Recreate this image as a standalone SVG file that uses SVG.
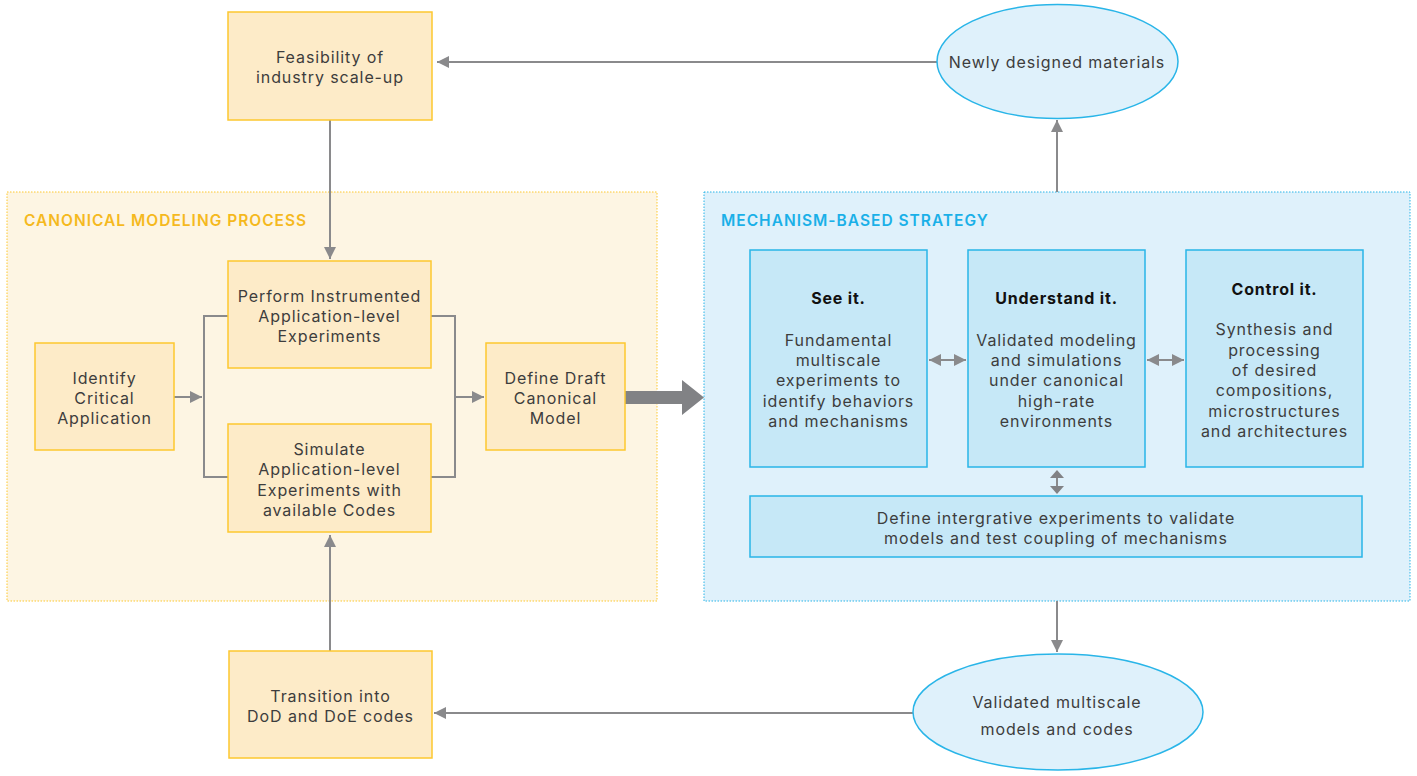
<svg xmlns="http://www.w3.org/2000/svg" width="1417" height="776" viewBox="0 0 1417 776">
<defs>
<style>
.t{font-family:Inter,"Open Sans","Liberation Sans",sans-serif;font-size:16px;letter-spacing:0.9px;fill:#3d3d3d;text-anchor:middle}
.b{font-weight:bold;fill:#111;letter-spacing:0.8px}
.yb{fill:#fdebc8;stroke:#fdc82f;stroke-width:1.5}
.bb{fill:#c6e8f7;stroke:#29b5e8;stroke-width:1.5}
.el{fill:#dff1fb;stroke:#29b5e8;stroke-width:1.5}
.ln{fill:none;stroke:#8a8a8c;stroke-width:2}
.hd{fill:#818285}
.ttl{font-family:Inter,"Open Sans","Liberation Sans",sans-serif;font-size:15.5px;font-weight:600;letter-spacing:1px}
</style>
<marker id="ah" viewBox="0 0 10 10" refX="10" refY="5" markerWidth="6" markerHeight="6" orient="auto-start-reverse" markerUnits="strokeWidth">
<path d="M0,0 L10,5 L0,10 z" fill="#8a8a8c"/>
</marker>
</defs>
<rect width="1417" height="776" fill="#fff"/>
<g id="canonical-region">
<rect x="7" y="192" width="650" height="409" fill="#fdf5e3" stroke="#fdc82f" stroke-width="1" stroke-dasharray="1.5,1.5"/>
<text class="ttl" x="24" y="226" fill="#f5b91e">CANONICAL MODELING PROCESS</text>
</g>
<g id="mechanism-region">
<rect x="704" y="192" width="706" height="409" fill="#dff1fb" stroke="#29b5e8" stroke-width="1" stroke-dasharray="1.5,1.5"/>
<text class="ttl" x="721" y="226" fill="#1ab0e8">MECHANISM-BASED STRATEGY</text>
</g>
<g id="connectors">
<line class="ln" x1="937" y1="62" x2="437" y2="62" marker-end="url(#ah)"/>
<line class="ln" x1="330" y1="120" x2="330" y2="259" marker-end="url(#ah)"/>
<line class="ln" x1="174" y1="397" x2="202" y2="397" marker-end="url(#ah)"/>
<polyline class="ln" points="228,316 204,316 204,477 228,477"/>
<polyline class="ln" points="431,316 455,316 455,477 431,477"/>
<line class="ln" x1="455" y1="397" x2="484" y2="397" marker-end="url(#ah)"/>
<path d="M625,391 L682,391 L682,380 L704,397.5 L682,415 L682,404 L625,404 z" fill="#818285"/>
<line class="ln" x1="330" y1="651" x2="330" y2="535" marker-end="url(#ah)"/>
<line class="ln" x1="913" y1="713" x2="434" y2="713" marker-end="url(#ah)"/>
<line class="ln" x1="1057" y1="192" x2="1057" y2="120" marker-end="url(#ah)"/>
<line class="ln" x1="1057" y1="601" x2="1057" y2="652" marker-end="url(#ah)"/>
<line class="ln" x1="929" y1="360" x2="966" y2="360" marker-start="url(#ah)" marker-end="url(#ah)"/>
<line class="ln" x1="1147" y1="360" x2="1184" y2="360" marker-start="url(#ah)" marker-end="url(#ah)"/>
<line class="ln" x1="1057" y1="477" x2="1057" y2="487"/>
<path class="hd" d="M1057,470 L1064,478 L1050,478 z"/>
<path class="hd" d="M1057,494 L1064,486 L1050,486 z"/>
</g>
<g id="feasibility">
<rect class="yb" x="228" y="12" width="204" height="108"/>
<text class="t" x="330" y="63">Feasibility of</text>
<text class="t" x="330" y="83">industry scale-up</text>
</g>
<g id="perform">
<rect class="yb" x="228" y="261" width="203" height="107"/>
<text class="t" x="329.5" y="302">Perform Instrumented</text>
<text class="t" x="329.5" y="322">Application-level</text>
<text class="t" x="329.5" y="342">Experiments</text>
</g>
<g id="simulate">
<rect class="yb" x="228" y="424" width="203" height="108"/>
<text class="t" x="329.5" y="455">Simulate</text>
<text class="t" x="329.5" y="475">Application-level</text>
<text class="t" x="329.5" y="496">Experiments with</text>
<text class="t" x="329.5" y="516">available Codes</text>
</g>
<g id="identify">
<rect class="yb" x="35" y="343" width="139" height="107"/>
<text class="t" x="104.5" y="384">Identify</text>
<text class="t" x="104.5" y="404">Critical</text>
<text class="t" x="104.5" y="424">Application</text>
</g>
<g id="define-draft">
<rect class="yb" x="486" y="343" width="139" height="107"/>
<text class="t" x="555.5" y="384">Define Draft</text>
<text class="t" x="555.5" y="404">Canonical</text>
<text class="t" x="555.5" y="424">Model</text>
</g>
<g id="transition">
<rect class="yb" x="229" y="651" width="203" height="107"/>
<text class="t" x="330.5" y="702">Transition into</text>
<text class="t" x="330.5" y="722">DoD and DoE codes</text>
</g>
<g id="see-it">
<rect class="bb" x="750" y="250" width="177" height="217"/>
<text class="t b" x="838.5" y="304">See it.</text>
<text class="t" x="838.5" y="346">Fundamental</text>
<text class="t" x="838.5" y="366">multiscale</text>
<text class="t" x="838.5" y="386">experiments to</text>
<text class="t" x="838.5" y="407">identify behaviors</text>
<text class="t" x="838.5" y="427">and mechanisms</text>
</g>
<g id="understand-it">
<rect class="bb" x="968" y="250" width="177" height="217"/>
<text class="t b" x="1056.5" y="304">Understand it.</text>
<text class="t" x="1056.5" y="346">Validated modeling</text>
<text class="t" x="1056.5" y="366">and simulations</text>
<text class="t" x="1056.5" y="386">under canonical</text>
<text class="t" x="1056.5" y="407">high-rate</text>
<text class="t" x="1056.5" y="427">environments</text>
</g>
<g id="control-it">
<rect class="bb" x="1186" y="250" width="177" height="217"/>
<text class="t b" x="1274.5" y="295">Control it.</text>
<text class="t" x="1274.5" y="335">Synthesis and</text>
<text class="t" x="1274.5" y="356">processing</text>
<text class="t" x="1274.5" y="376">of desired</text>
<text class="t" x="1274.5" y="396">compositions,</text>
<text class="t" x="1274.5" y="417">microstructures</text>
<text class="t" x="1274.5" y="437">and architectures</text>
</g>
<g id="define-integrative">
<rect class="bb" x="750" y="496" width="612" height="61"/>
<text class="t" x="1056" y="524">Define intergrative experiments to validate</text>
<text class="t" x="1056" y="544">models and test coupling of mechanisms</text>
</g>
<g id="newly-designed">
<ellipse class="el" cx="1057.5" cy="61.5" rx="120.5" ry="57"/>
<text class="t" x="1057" y="68">Newly designed materials</text>
</g>
<g id="validated-models">
<ellipse class="el" cx="1058" cy="712" rx="145" ry="58"/>
<text class="t" x="1057" y="708">Validated multiscale</text>
<text class="t" x="1057" y="735">models and codes</text>
</g>
</svg>
